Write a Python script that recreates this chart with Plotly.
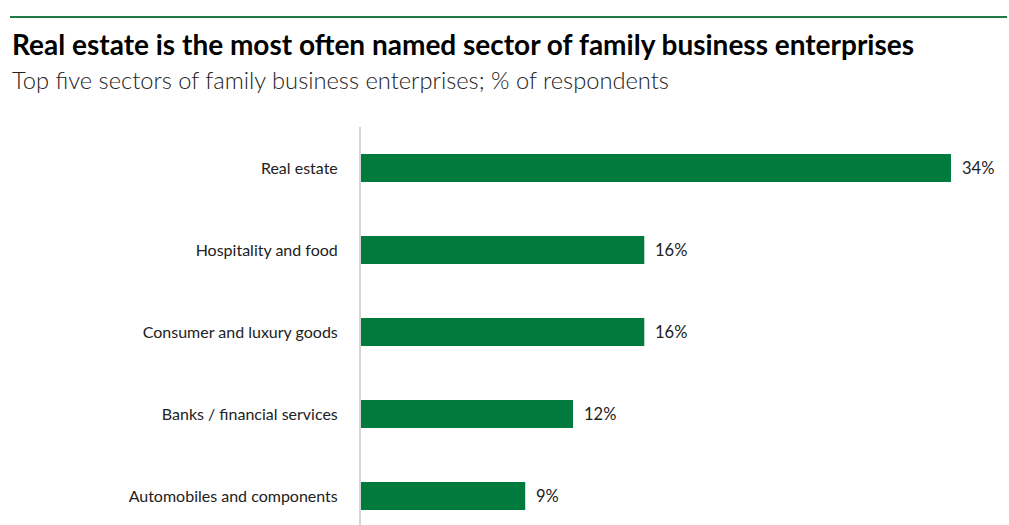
import plotly.graph_objects as go

categories = ["Real estate", "Hospitality and food", "Consumer and luxury goods",
              "Banks / financial services", "Automobiles and components"]
values = [33.95, 16.3, 16.3, 12.2, 9.45]
labels = ["34%", "16%", "16%", "12%", "9%"]

GREEN = "#007A3D"
W, H = 1009, 525
L, R, T, B = 361, 9, 127, 0
pw, ph = W - L - R, H - T - B
PX_PER_UNIT = 590 / 33.95

def px(x):
    return (x - L) / pw

def py(y):
    return (H - B - y) / ph

fig = go.Figure()
fig.add_trace(go.Bar(
    x=values, y=categories, orientation="h",
    marker=dict(color=GREEN, line=dict(width=0)),
    width=0.34, hoverinfo="skip",
))

for c, v, t in zip(categories, values, labels):
    fig.add_annotation(x=v, y=c, text=t, showarrow=False, xanchor="left",
                       xshift=9, font=dict(family="Lato", size=16.5, color="#222"))

fig.add_shape(type="line", xref="paper", yref="paper",
              x0=px(10), x1=px(1007), y0=py(17), y1=py(17),
              line=dict(color="#1E7B48", width=2))

fig.add_annotation(xref="paper", yref="paper", x=px(10), y=py(44),
                   text="<b>Real estate is the most often named sector of family business enterprises</b>",
                   showarrow=False, xanchor="left", yanchor="middle",
                   font=dict(family="Lato", size=28, color="#000"))
fig.add_annotation(xref="paper", yref="paper", x=px(10), y=py(80),
                   text="Top five sectors of family business enterprises; % of respondents",
                   showarrow=False, xanchor="left", yanchor="middle",
                   font=dict(family="Lato", size=23.7, color="#222", weight=300))

fig.update_layout(
    width=W, height=H, margin=dict(l=L, r=R, t=T, b=B),
    paper_bgcolor="white", plot_bgcolor="white", showlegend=False,
    xaxis=dict(range=[0, pw / PX_PER_UNIT], visible=False, fixedrange=True),
    yaxis=dict(type="category", categoryorder="array", categoryarray=categories,
               range=[4.354, -0.5], showline=True, linecolor="#d4d4d4", linewidth=2,
               ticks="", ticklabelstandoff=18,
               tickfont=dict(family="Lato", size=16, color="#222"), showgrid=False,
               zeroline=False),
)

fig.write_html("out.html")
